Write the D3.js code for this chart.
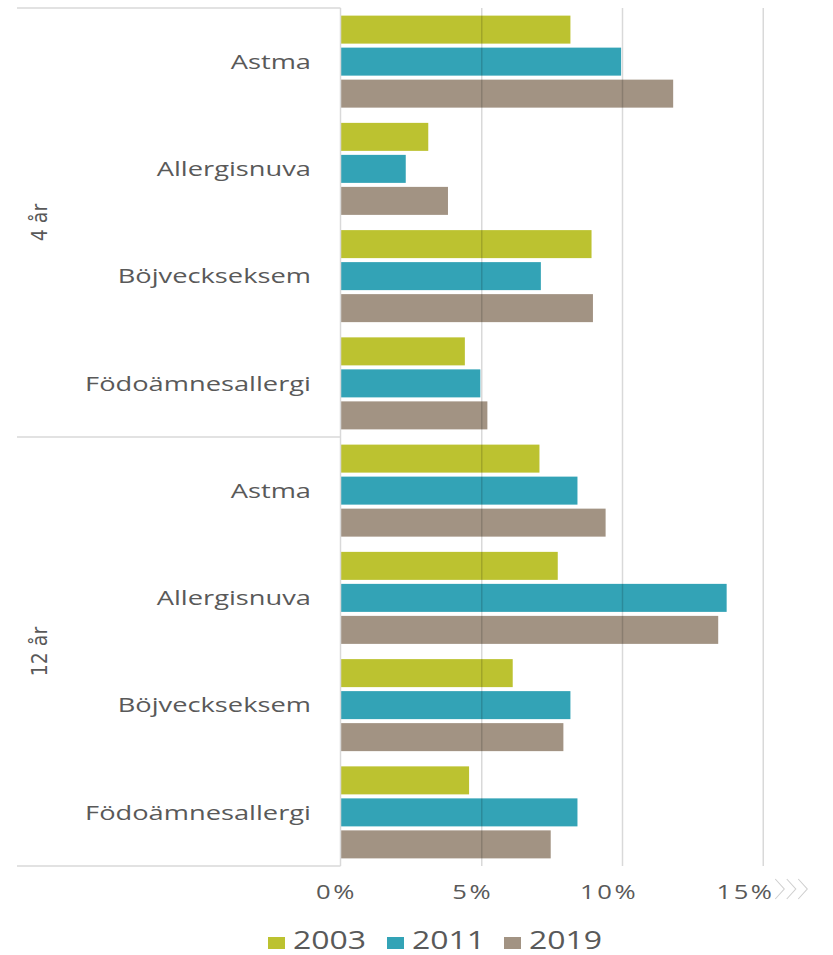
<!DOCTYPE html>
<html>
<head>
<meta charset="utf-8">
<script src="https://cdn.jsdelivr.net/npm/d3@7"></script>
<style>
  html, body { margin: 0; padding: 0; background: #fff; }
  svg { display: block; }
</style>
</head>
<body>
<svg id="chart" width="833" height="955"></svg>
<script>
// ---------- data ----------
const groups = ["4 år", "12 år"];
const diseases = ["Astma", "Allergisnuva", "Böjveckseksem", "Födoämnesallergi"];
const seriesNames = ["2003", "2011", "2019"];
// values in percent, order: 4 år (Astma, Allergisnuva, Böjveckseksem, Födoämnesallergi), 12 år (same)
const values2003 = [8.15, 3.1, 8.9, 4.4, 7.05, 7.7, 6.1, 4.55];
const values2011 = [9.95, 2.3, 7.1, 4.95, 8.4, 13.7, 8.15, 8.4];
const values2019 = [11.8, 3.8, 8.95, 5.2, 9.4, 13.4, 7.9, 7.45];
const tickValues = [0, 5, 10, 15];
const tickLabels = ["0%", "5%", "10%", "15%"];
const colors = ["#bcc230", "#33a3b6", "#a29383"];

// ---------- build ----------
const rows = [];
groups.forEach((g) => diseases.forEach((d) => rows.push({ key: g + "|" + d, group: g, disease: d })));
const seriesValues = [values2003, values2011, values2019];

const svg = d3.select("#chart");
const x0 = 341, plotTop = 8, plotBottom = 866;
const x = d3.scaleLinear().domain([0, 15]).range([x0, x0 + 15 * 28.15]);
// tick labels in the original sit slightly left of their gridlines
const xLabel = d3.scaleLinear().domain([0, 15]).range([336, 745]);
const y = d3.scaleBand().domain(rows.map(r => r.key)).range([plotTop, plotBottom]);
const yInner = d3.scaleBand().domain(seriesNames).range([0, y.bandwidth()])
  .paddingInner(0.125).paddingOuter(0.238);

const frameColor = "#d9d9d9";
const textColor = "#595959";
const stretch = 1.28; // the original's text is horizontally widened

// bars
seriesNames.forEach((s, si) => {
  svg.append("g").selectAll("rect")
    .data(rows.map((r, i) => ({ key: r.key, v: seriesValues[si][i] })))
    .join("rect")
    .attr("x", x(0))
    .attr("y", d => y(d.key) + yInner(s))
    .attr("width", d => x(d.v) - x(0))
    .attr("height", yInner.bandwidth())
    .attr("fill", colors[si]);
});

// gridlines (drawn over bars, semi-transparent)
svg.append("g").selectAll("line")
  .data(tickValues.filter(t => t > 0))
  .join("line")
  .attr("x1", d => x(d)).attr("x2", d => x(d))
  .attr("y1", plotTop).attr("y2", plotBottom)
  .attr("stroke", "rgba(0,0,0,0.15)")
  .attr("stroke-width", 1.5);

// left frame: vertical axis line and group separators
const frameLeft = 17;
svg.append("line")
  .attr("x1", x(0) - 0.5).attr("x2", x(0) - 0.5)
  .attr("y1", plotTop).attr("y2", plotBottom)
  .attr("stroke", frameColor).attr("stroke-width", 1.5);
const groupEdges = [plotTop, y(groups[1] + "|" + diseases[0]), plotBottom];
svg.append("g").selectAll("line")
  .data(groupEdges)
  .join("line")
  .attr("x1", frameLeft).attr("x2", x(0) - 0.5)
  .attr("y1", d => d).attr("y2", d => d)
  .attr("stroke", frameColor).attr("stroke-width", 1.5);

// category labels
svg.append("g").selectAll("text")
  .data(rows)
  .join("text")
  .attr("transform", d => `translate(311,${y(d.key) + y.bandwidth() / 2}) scale(1.33,1)`)
  .attr("dy", "0.35em")
  .attr("text-anchor", "end")
  .attr("font-family", "'Open Sans', sans-serif")
  .attr("font-size", 20.5)
  .attr("fill", textColor)
  .text(d => d.disease);

// group labels (rotated)
svg.append("g").selectAll("text")
  .data(groups)
  .join("text")
  .attr("transform", (g, i) => {
    const cy = (groupEdges[i] + groupEdges[i + 1]) / 2;
    return `translate(47,${cy}) rotate(-90)`;
  })
  .attr("text-anchor", "middle")
  .attr("font-family", "'Liberation Sans Narrow', 'DejaVu Sans Condensed', sans-serif")
  .attr("font-size", 21)
  .attr("fill", textColor)
  .text(d => d);

// x axis tick labels
const xAxis = d3.axisBottom(xLabel).tickValues(tickValues)
  .tickFormat((d, i) => tickLabels[i]).tickSize(0).tickPadding(0);
const ax = svg.append("g").attr("transform", `translate(0,899)`).call(xAxis);
ax.select(".domain").remove();
ax.selectAll(".tick text")
  .attr("transform", `scale(${stretch},1)`)
  .attr("font-family", "'Open Sans', sans-serif")
  .attr("font-size", 20)
  .attr("letter-spacing", "2px")
  .attr("fill", textColor)
  .attr("y", 0)
  .attr("dy", 0);

// chevrons after last tick
const chevX = x(15) + 12, chevY = 879, chevH = 20;
svg.append("g").selectAll("path")
  .data([0, 1, 2])
  .join("path")
  .attr("d", i => {
    const sx = chevX + i * 11.5;
    return `M${sx},${chevY} L${sx + 9},${chevY + chevH / 2} L${sx},${chevY + chevH}`;
  })
  .attr("fill", "none")
  .attr("stroke", "#cfcfcf")
  .attr("stroke-width", 1.1);

// legend
const legendX = [268, 387, 504];
const lg = svg.append("g").selectAll("g")
  .data(seriesNames)
  .join("g")
  .attr("transform", (d, i) => `translate(${legendX[i]},0)`);
lg.append("rect")
  .attr("x", 0).attr("y", 937)
  .attr("width", 17).attr("height", 12)
  .attr("fill", (d, i) => colors[i]);
lg.append("text")
  .attr("transform", `translate(25,949) scale(${stretch},1)`)
  .attr("font-family", "'Open Sans', sans-serif")
  .attr("font-size", 25)
  .attr("fill", textColor)
  .text(d => d);
</script>
</body>
</html>
